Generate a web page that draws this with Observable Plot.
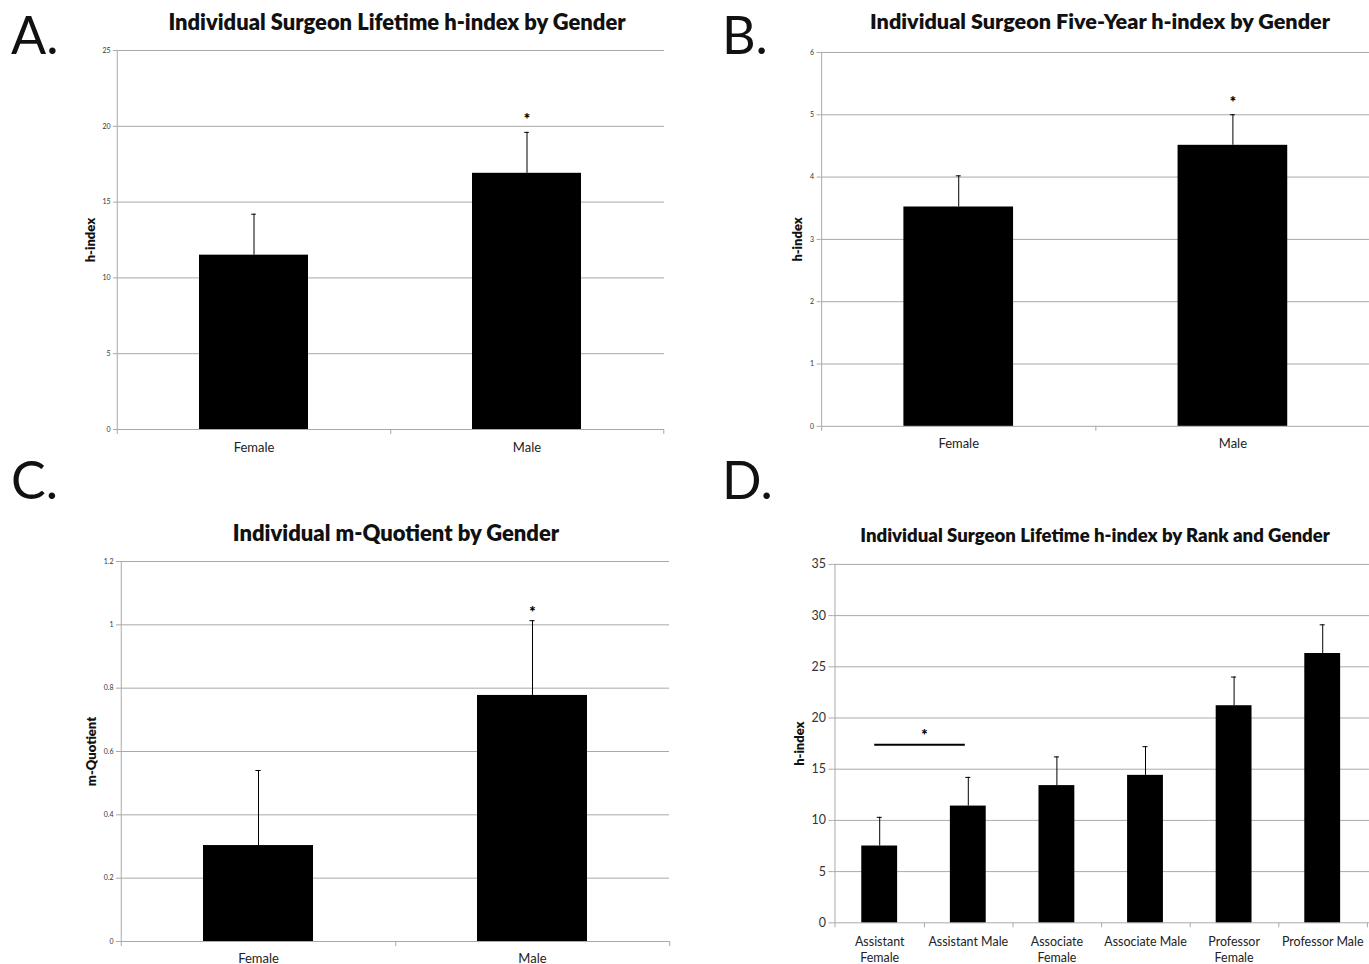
<!DOCTYPE html>
<html><head><meta charset="utf-8">
<script src="https://cdn.jsdelivr.net/npm/d3@7"></script>
<script src="https://cdn.jsdelivr.net/npm/@observablehq/plot@0.6"></script>
<style>
html,body{margin:0;padding:0;background:#fff;overflow:hidden;}
#root{position:relative;width:1369px;height:964px;font-family:Lato,"Open Sans",sans-serif;overflow:hidden;}
.panel{position:absolute;}
.panel svg{overflow:visible;}
.title{position:absolute;font-weight:800;white-space:nowrap;transform:translate(-50%,-50%);color:#111;line-height:1.2;}
.letter{position:absolute;font-size:52px;line-height:1;color:#111;}
</style></head><body><div id="root"></div>
<script>
// ---------- data ----------
const panelLetters = ["A.", "B.", "C.", "D."];
const titles = [
  "Individual Surgeon Lifetime h-index by Gender",
  "Individual Surgeon Five-Year h-index by Gender",
  "Individual m-Quotient by Gender",
  "Individual Surgeon Lifetime h-index by Rank and Gender"
];
const genderCats = ["Female", "Male"];
const lifetimeH = [11.5, 16.9];
const lifetimeHUpper = [14.2, 19.6];
const fiveYearH = [3.52, 4.51];
const fiveYearHUpper = [4.02, 5.0];
const mQuotient = [0.303, 0.777];
const mQuotientUpper = [0.54, 1.013];
const rankCats = ["Assistant Female", "Assistant Male", "Associate Female", "Associate Male", "Professor Female", "Professor Male"];
const rankLabels = ["Assistant\nFemale", "Assistant Male", "Associate\nFemale", "Associate Male", "Professor\nFemale", "Professor Male"];
const rankH = [7.5, 11.4, 13.4, 14.4, 21.2, 26.3];
const rankHUpper = [10.3, 14.2, 16.2, 17.2, 24.0, 29.1];
const ticksA = [0, 5, 10, 15, 20, 25];
const ticksB = [0, 1, 2, 3, 4, 5, 6];
const ticksC = [0, 0.2, 0.4, 0.6, 0.8, 1, 1.2];
const ticksD = [0, 5, 10, 15, 20, 25, 30, 35];
const yLabels = ["h-index", "h-index", "m-Quotient", "h-index"];
// significance annotations
const starA = {cat: "Male", y: 20.5};
const starB = {cat: "Male", y: 5.2};
const starC = {cat: "Male", y: 1.04};
const sigD = {from: "Assistant Female", to: "Assistant Male", y: 17.4, starY: 18.3};

// ---------- layout ----------
const root = document.getElementById("root");
const GRAY = "#a9a9a9";
const FONT = "Lato, 'Open Sans', sans-serif";

function fitSize(text, target, weight) {
  const c = document.createElement("canvas").getContext("2d");
  c.font = `${weight} 20px Lato`;
  return 20 * target / c.measureText(text).width;
}
function addTitle(text, cx, cy, targetW) {
  const d = document.createElement("div");
  d.className = "title";
  d.textContent = text;
  d.style.left = cx + "px"; d.style.top = cy + "px";
  d.style.fontSize = fitSize(text, targetW, 800).toFixed(2) + "px";
  root.appendChild(d);
}
function addLetter(text, x, y) {
  const d = document.createElement("div");
  d.className = "letter";
  d.textContent = text;
  d.style.left = x + "px"; d.style.top = y + "px";
  root.appendChild(d);
}

function panel(o) {
  const n = o.cats.length;
  const step = (o.width - o.ml - o.mr) / n;
  const bw = step * 0.4;
  const data = o.cats.map((c, i) => ({cat: c, v: o.values[i], e: o.upper[i]}));
  const labelOf = Object.fromEntries(o.cats.map((c, i) => [c, o.labels[i]]));
  const y0 = o.yDomain[0];
  const marks = [
    Plot.gridY(o.yTicks, {stroke: GRAY, strokeOpacity: 1}),
    Plot.ruleX([o.cats[0]], {x: d => d, dx: -step / 2, insetBottom: -5, stroke: GRAY}),
    Plot.ruleX(o.cats, {x: d => d, dx: step / 2, y1: () => y0, y2: () => y0, insetBottom: -5, stroke: GRAY}),
    Plot.axisY({ticks: o.yTicks, tickFormat: o.tickFmt, tickSize: 4, tickPadding: 3, fontSize: o.tickFont, stroke: GRAY, fill: "#333", label: null}),
    Plot.barY(data, {x: "cat", y: "v", fill: "#000"}),
    Plot.ruleX(data, {x: "cat", y1: "v", y2: "e", stroke: "#000", strokeWidth: 1}),
    Plot.tickY(data, {x: "cat", y: "e", inset: bw / 2 - 2.5, stroke: "#000", strokeWidth: 1}),
    Plot.axisX({tickSize: 0, tickPadding: o.xPad, fontSize: o.xFont, lineHeight: 1.3, fill: "#222", label: null, tickFormat: d => labelOf[d]}),
    Plot.text([o.yLabel], {text: d => d, frameAnchor: "left", textAnchor: "middle", rotate: -90, dx: o.yLabelDx, fontWeight: 800, fontSize: 13, fill: "#111"})
  ];
  if (o.star) marks.push(Plot.text([o.star], {x: "cat", y: "y", text: () => "*", fontSize: 15, fontWeight: 800, fill: "#000"}));
  if (o.sig) {
    marks.push(Plot.ruleY([o.sig], {y: "y", x1: d => d.from, x2: d => d.to, insetLeft: 13, insetRight: 21, stroke: "#000", strokeWidth: 2}));
    marks.push(Plot.text([o.sig], {x: d => d.from, y: "starY", dx: step / 2, text: () => "*", fontSize: 15, fontWeight: 800, fill: "#000"}));
  }
  const chart = Plot.plot({
    width: o.width, height: o.height,
    marginLeft: o.ml, marginRight: o.mr, marginTop: o.mt, marginBottom: o.mb,
    style: {fontFamily: FONT, background: "transparent", overflow: "visible"},
    x: {domain: o.cats, paddingInner: 0.6, paddingOuter: 0.3, axis: null},
    y: {domain: o.yDomain, axis: null},
    marks
  });
  const div = document.createElement("div");
  div.className = "panel";
  div.style.left = o.left + "px"; div.style.top = o.top + "px";
  div.appendChild(chart);
  root.appendChild(div);
}

const fmtC = d => d3.format("~g")(d);

panel({left: 0, top: 40, width: 680, height: 425, ml: 117, mr: 16, mt: 10, mb: 36,
  cats: genderCats, labels: genderCats, values: lifetimeH, upper: lifetimeHUpper,
  yDomain: [0, 25], yTicks: ticksA, tickFmt: d => d, tickFont: 7,
  yLabel: yLabels[0], yLabelDx: -27, xFont: 13, xPad: 10, star: starA});
panel({left: 700, top: 40, width: 671, height: 425, ml: 121, mr: 0, mt: 12, mb: 38,
  cats: genderCats, labels: genderCats, values: fiveYearH, upper: fiveYearHUpper,
  yDomain: [0, 6], yTicks: ticksB, tickFmt: d => d, tickFont: 7,
  yLabel: yLabels[1], yLabelDx: -23, xFont: 13, xPad: 10, star: starB});
panel({left: 0, top: 545, width: 680, height: 419, ml: 120, mr: 11, mt: 16, mb: 23,
  cats: genderCats, labels: genderCats, values: mQuotient, upper: mQuotientUpper,
  yDomain: [0, 1.2], yTicks: ticksC, tickFmt: fmtC, tickFont: 7,
  yLabel: yLabels[2], yLabelDx: -29, xFont: 13, xPad: 9, star: starC});
panel({left: 700, top: 545, width: 672, height: 419, ml: 133, mr: 0, mt: 19, mb: 40,
  cats: rankCats, labels: rankLabels, values: rankH, upper: rankHUpper,
  yDomain: [0, 35], yTicks: ticksD, tickFmt: d => d, tickFont: 12.5,
  yLabel: yLabels[3], yLabelDx: -33, xFont: 12.5, xPad: 12, sig: sigD});

addTitle(titles[0], 397, 22, 458);
addTitle(titles[1], 1100, 22, 461);
addTitle(titles[2], 396, 533, 327);
addTitle(titles[3], 1095, 535, 470);
addLetter(panelLetters[0], 11, 8);
addLetter(panelLetters[1], 722, 8);
addLetter(panelLetters[2], 11, 453);
addLetter(panelLetters[3], 722, 453);
</script></body></html>
